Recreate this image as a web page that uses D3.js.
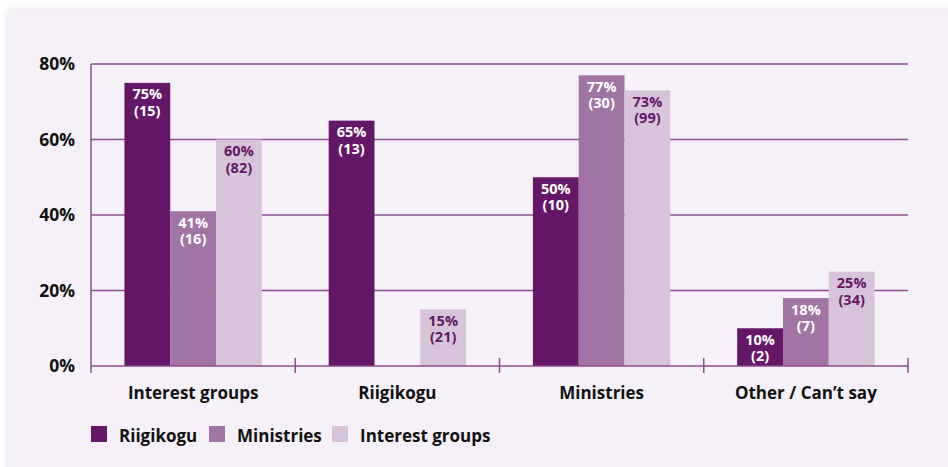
<!DOCTYPE html>
<html><head><meta charset="utf-8">
<script src="https://cdn.jsdelivr.net/npm/d3@7"></script>
<style>
html,body{margin:0;padding:0;background:#fff;}
svg{display:block;}
text{font-family:"Open Sans","Noto Sans",sans-serif;font-weight:700;}
</style></head><body>
<svg id="chart" width="948" height="467"></svg>
<script>
const categories = ["Interest groups", "Riigikogu", "Ministries", "Other / Can\u2019t say"];
const seriesNames = ["Riigikogu", "Ministries", "Interest groups"];
const riigikoguPct = [75, 65, 50, 10];
const riigikoguN = [15, 13, 10, 2];
const ministriesPct = [41, null, 77, 18];
const ministriesN = [16, null, 30, 7];
const interestPct = [60, 15, 73, 25];
const interestN = [82, 21, 99, 34];
const yTicks = [0, 20, 40, 60, 80];
const colors = ["#641766", "#a273a5", "#d8c4da"];
const labelColors = ["#ffffff", "#ffffff", "#641766"];

const pcts = [riigikoguPct, ministriesPct, interestPct];
const ns = [riigikoguN, ministriesN, interestN];

const svg = d3.select("#chart");
const defs = svg.append("defs");
const f = defs.append("filter").attr("id","sh").attr("x","-5%").attr("y","-5%").attr("width","110%").attr("height","110%");
f.append("feDropShadow").attr("dx",0).attr("dy",0).attr("stdDeviation",4).attr("flood-color","#000").attr("flood-opacity",0.12);
svg.append("rect").attr("x",8).attr("y",10).attr("width",960).attr("height",480).attr("fill","#f6f1f8").attr("filter","url(#sh)");

const m = {left:91, right:908, top:64, bottom:366};
const x0 = d3.scaleBand().domain(categories).range([m.left, m.right]).paddingInner(0).paddingOuter(0);
const x1 = d3.scaleBand().domain(seriesNames).range([0, x0.bandwidth()]).paddingInner(0).paddingOuter(0.73);
const y = d3.scaleLinear().domain([0, 80]).range([m.bottom, m.top]);
const lineColor = "#8d4d90";
const fs = 17;

// gridlines
svg.append("g").selectAll("line").data(yTicks.slice(1)).join("line")
  .attr("x1", m.left).attr("x2", m.right)
  .attr("y1", d => y(d)).attr("y2", d => y(d))
  .attr("stroke", lineColor).attr("stroke-width", 1.5);

// y axis labels
const yAxis = d3.axisLeft(y).tickValues(yTicks).tickFormat(d => d + "%").tickSize(0).tickPadding(16);
const ya = svg.append("g").attr("transform", `translate(${m.left},0)`).call(yAxis);
ya.select(".domain").remove();
ya.selectAll("text").attr("font-size", 17.5).attr("fill", "#111").attr("font-family", '"Open Sans",sans-serif').attr("font-weight", 700);

// bars
const groups = svg.append("g").selectAll("g").data(categories).join("g")
  .attr("transform", d => `translate(${x0(d)},0)`);
categories.forEach((c, ci) => {
  const g = groups.filter(d => d === c);
  seriesNames.forEach((s, si) => {
    const v = pcts[si][ci];
    if (v == null) return;
    const bx = x1(s), bw = x1.bandwidth();
    g.append("rect").attr("x", bx).attr("y", y(v)).attr("width", bw).attr("height", y(0) - y(v)).attr("fill", colors[si]);
    const t = g.append("text").attr("text-anchor", "middle").attr("fill", labelColors[si]).attr("font-size", 14.5);
    t.append("tspan").attr("x", bx + bw/2).attr("y", y(v) + 16.5).text(v + "%");
    t.append("tspan").attr("x", bx + bw/2).attr("y", y(v) + 33).text("(" + ns[si][ci] + ")");
  });
});

// x axis
svg.append("line").attr("x1", m.left).attr("x2", m.right).attr("y1", y(0)).attr("y2", y(0)).attr("stroke", lineColor).attr("stroke-width", 1.5);
svg.append("line").attr("x1", m.left).attr("x2", m.left).attr("y1", m.top).attr("y2", y(0) + 7).attr("stroke", lineColor).attr("stroke-width", 1.5);
const tickXs = categories.map(c => x0(c)).concat([m.right]);
svg.append("g").selectAll("line").data(tickXs.slice(1)).join("line")
  .attr("x1", d => d).attr("x2", d => d).attr("y1", y(0) - 8).attr("y2", y(0) + 7)
  .attr("stroke", lineColor).attr("stroke-width", 1.5);
const xAxis = d3.axisBottom(x0).tickSize(0).tickPadding(0);
const xa = svg.append("g").attr("transform", `translate(0,${y(0)})`).call(xAxis);
xa.select(".domain").remove();
xa.selectAll("text").attr("dy", null).attr("y", 33).attr("font-size", fs).attr("fill", "#111").attr("font-family", '"Open Sans",sans-serif').attr("font-weight", 700);

// legend
const legX = [91, 209, 332];
const leg = svg.append("g").selectAll("g").data(seriesNames).join("g")
  .attr("transform", (d, i) => `translate(${legX[i]},426)`);
leg.append("rect").attr("width", 16).attr("height", 16).attr("fill", (d, i) => colors[i]);
leg.append("text").attr("x", 28).attr("y", 16).attr("font-size", fs).attr("fill", "#111").text(d => d);
</script>
</body></html>
